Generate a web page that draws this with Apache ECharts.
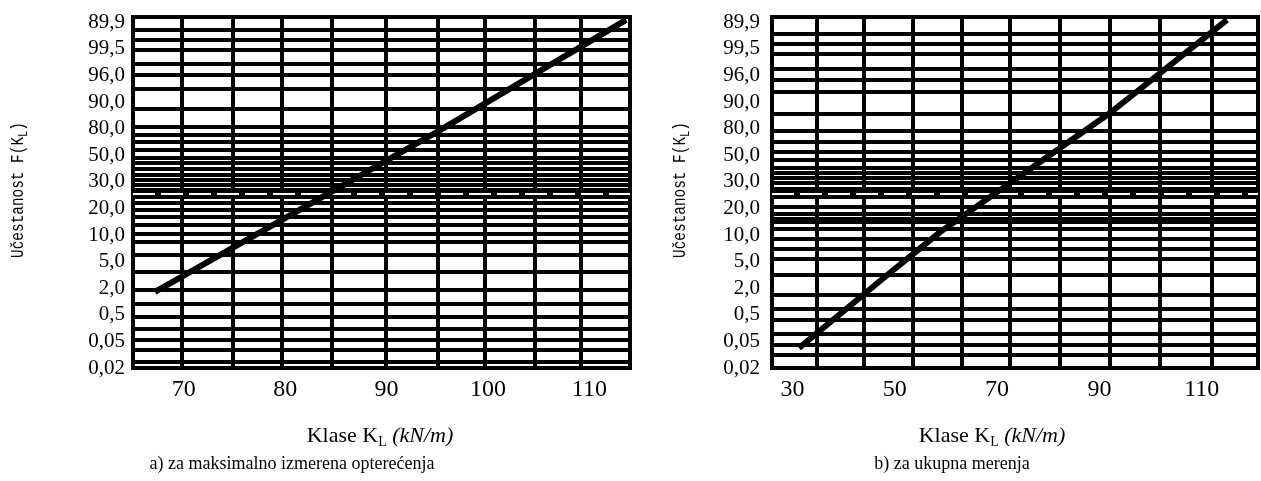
<!DOCTYPE html>
<html>
<head>
<meta charset="utf-8">
<script src="https://cdn.jsdelivr.net/npm/echarts@6/dist/echarts.min.js"></script>
<style>
html,body{margin:0;padding:0;background:#fff;}
#chart{width:1261px;height:481px;}
</style>
</head>
<body>
<div id="chart"></div>
<script>
// Probability-paper tick labels (bottom to top), placed at index 0..13
const yTickLabels = ['0,02','0,05','0,5','2,0','5,0','10,0','20,0','30,0','50,0','80,0','90,0','96,0','99,5','89,9'];

// x tick labels
const xTicksA = [70, 80, 90, 100, 110];
const xTicksB = [30, 50, 70, 90, 110];

// printed grid of the probability paper, y in label-index units
const hGridA = [12.73,12.34,11.98,11.45,11.02,10.51,9.76,9.08,8.76,8.52,8.20,7.90,7.71,7.48,7.26,7.09,6.88,6.69,6.22,5.94,5.70,5.38,5.06,4.74,4.27,3.63,2.95,2.43,1.94,1.49,1.07,0.68,0.24];
const vGridA = [69.8,74.8,79.7,84.6,89.9,95.0,99.7,104.6,109.1];
const bandA = [6.56];
const hGridB = [12.58,12.20,11.83,11.26,10.83,10.40,9.55,8.93,8.52,8.14,7.82,7.52,7.33,7.15,6.96,6.75,6.07,5.81,5.60,5.50,5.25,4.87,4.49,4.12,3.50,2.76,2.24,1.81,1.30,0.86,0.49];
const vGridB = [34.8,44.0,53.6,63.1,72.5,82.3,92.1,101.8,112.0];
const bandB = [6.54];

// fitted distribution lines [K_L, label-index position]
const lineA = [[67.17,2.86],[94.98,8.88],[113.62,13.09]];
const lineB = [[31.28,0.75],[47.11,3.27],[58.84,5.11],[92.07,9.59],[114.94,13.09]];

const SERIF = '"Liberation Serif","Times New Roman",serif';
const MONO = '"Liberation Mono","DejaVu Sans Mono",monospace';

function yAxis(gridIndex, margin){
  return {
    type:'value', gridIndex, min:0, max:13.2, interval:1,
    axisLine:{show:false}, axisTick:{show:false}, splitLine:{show:false},
    axisLabel:{
      margin, color:'#000', fontFamily:SERIF, fontSize:21,
      formatter:v => Number.isInteger(v) && yTickLabels[v] !== undefined ? yTickLabels[v] : ''
    }
  };
}
function xAxis(gridIndex, min, max, interval, ticks){
  return {
    type:'value', gridIndex, min, max, interval,
    axisLine:{show:false}, axisTick:{show:false}, splitLine:{show:false},
    axisLabel:{
      margin:10, color:'#000', fontFamily:SERIF, fontSize:24,
      showMaxLabel:false,
      formatter:v => ticks.includes(v) ? String(v) : ''
    }
  };
}
function ml(data, style){
  return {
    silent:true, symbol:['none','none'], animation:false,
    label:{show:false}, emphasis:{disabled:true},
    lineStyle:style, data
  };
}
function gridSeries(idx, hs, vs){
  return {
    type:'line', xAxisIndex:idx, yAxisIndex:idx, data:[], z:1, silent:true,
    markLine: ml(hs.map(v=>({yAxis:v})).concat(vs.map(v=>({xAxis:v}))),
                 {color:'#000', width:4, type:'solid'})
  };
}
function bandSeries(idx, bs, z, style){
  return {
    type:'line', xAxisIndex:idx, yAxisIndex:idx, data:[], z, silent:true,
    markLine: ml(bs.map(v=>({yAxis:v})), style)
  };
}
function dataSeries(idx, d){
  return {
    type:'line', xAxisIndex:idx, yAxisIndex:idx, data:d, z:5, silent:true,
    symbol:'none', lineStyle:{color:'#000', width:6, cap:'butt'}
  };
}
function yName(x){
  return {
    type:'text', x, y:190, rotation:Math.PI/2, scaleX:0.8, silent:true,
    style:{
      text:'{m|Učestanost F(K}{s|L}{m|)}',
      align:'center', verticalAlign:'middle',
      rich:{
        m:{fontFamily:MONO, fontSize:18, fill:'#000', lineHeight:24, verticalAlign:'middle'},
        s:{fontFamily:MONO, fontSize:13, fill:'#000', lineHeight:12, verticalAlign:'bottom'}
      }
    }
  };
}
function xName(x){
  return {
    type:'text', x, y:436, silent:true,
    style:{
      text:'{m|Klase K}{s|L}{i| (kN/m)}',
      align:'center', verticalAlign:'middle',
      rich:{
        m:{fontFamily:SERIF, fontSize:22, fill:'#000', lineHeight:26, verticalAlign:'middle'},
        s:{fontFamily:SERIF, fontSize:14, fill:'#000', lineHeight:12, verticalAlign:'bottom'},
        i:{fontFamily:SERIF, fontSize:22, fontStyle:'italic', fill:'#000', lineHeight:26, verticalAlign:'middle'}
      }
    }
  };
}
function caption(x, t){
  return {
    type:'text', x, y:464, silent:true,
    style:{text:t, align:'center', verticalAlign:'middle', fontFamily:SERIF, fontSize:18, fill:'#000'}
  };
}

const chart = echarts.init(document.getElementById('chart'), null, {renderer:'canvas'});
chart.setOption({
  animation:false,
  backgroundColor:'#fff',
  grid:[
    {left:133, right:631, top:17, bottom:113, show:true, borderColor:'#000', borderWidth:4, backgroundColor:'transparent'},
    {left:772, right:3, top:17, bottom:113, show:true, borderColor:'#000', borderWidth:4, backgroundColor:'transparent'}
  ],
  xAxis:[ xAxis(0, 65, 114, 5, xTicksA), xAxis(1, 26, 121, 2, xTicksB) ],
  yAxis:[ yAxis(0, 8), yAxis(1, 12) ],
  series:[
    gridSeries(0, hGridA, vGridA),
    gridSeries(1, hGridB, vGridB),
    bandSeries(0, bandA, 2, {color:'#000', width:10, type:'solid'}),
    bandSeries(1, bandB, 2, {color:'#000', width:10, type:'solid'}),
    bandSeries(0, bandA, 3, {color:'#fff', width:2, type:[22,6]}),
    bandSeries(1, bandB, 3, {color:'#fff', width:2, type:[22,6]}),
    dataSeries(0, lineA),
    dataSeries(1, lineB)
  ],
  graphic:[
    yName(18), yName(680),
    xName(380), xName(992),
    caption(292, 'a) za maksimalno izmerena opterećenja'),
    caption(952, 'b) za ukupna merenja')
  ]
});
</script>
</body>
</html>
